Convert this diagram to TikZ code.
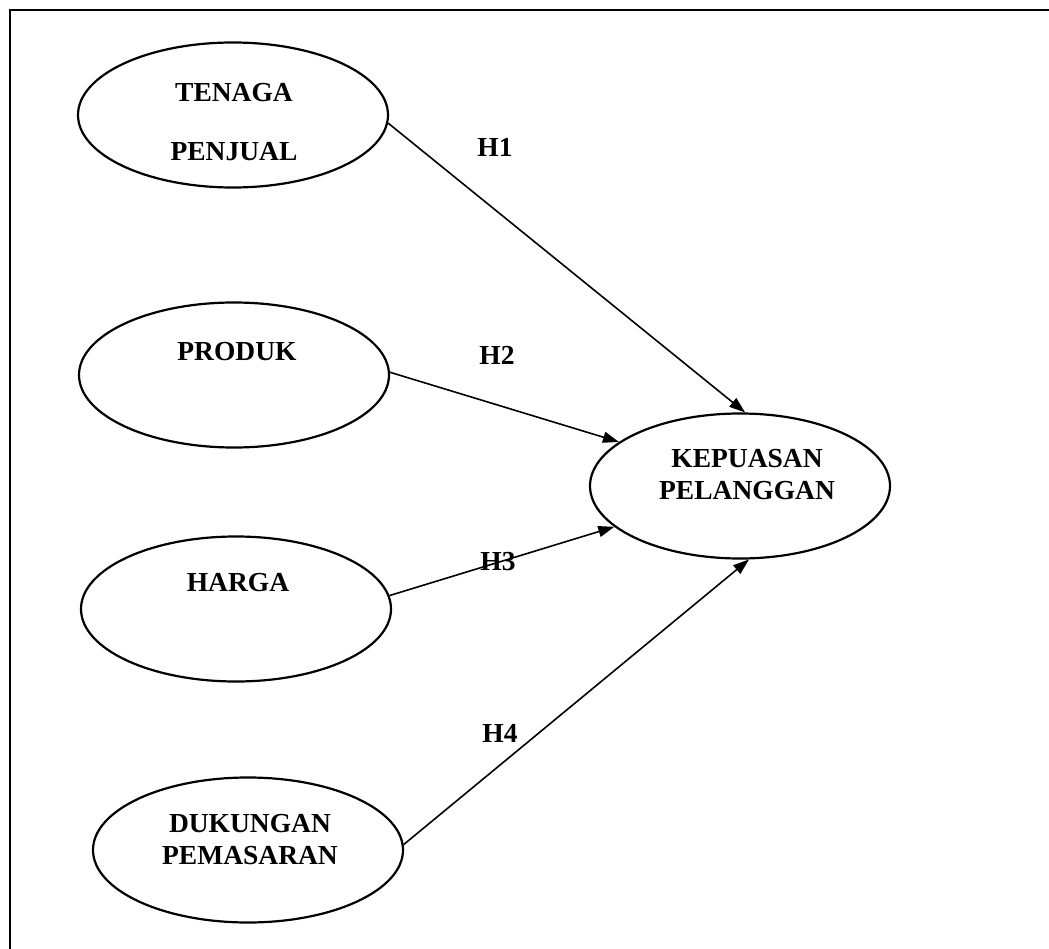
\documentclass[tikz,border=0pt]{standalone}
\usepackage{fontspec}
\setmainfont{Liberation Serif}
\usetikzlibrary{shapes.geometric,arrows.meta}
\begin{document}
\begin{tikzpicture}[x=1pt,y=-1pt,
  var/.style={ellipse,draw,line width=2.2pt,minimum width=310pt,minimum height=145pt,inner sep=0pt},
  txt/.style={align=center,font=\fontsize{27.5}{32}\selectfont\bfseries,inner sep=0pt},
  hyp/.style={font=\fontsize{27.5}{32}\selectfont\bfseries,inner sep=0pt},
  link/.style={line width=1.6pt,-{Triangle[length=16pt,width=11pt]}}]
\useasboundingbox (0,0) rectangle (1049,949);
% frame
\coordinate (fTL) at (10,10);
\coordinate (fTR) at (1049,10);
\coordinate (fBL) at (10,949);
\draw[line width=2.2pt] (fTR) -- (fTL) -- (fBL);
% ellipses
\node[var] (tenaga) at (233,115) {};
\node[var] (produk) at (234,375) {};
\node[var] (harga) at (236,609) {};
\node[var] (dukungan) at (248,850) {};
\node[var,minimum width=300pt] (kepuasan) at (740,486) {};
% texts
\node[txt] (tTenaga) at (234,122) {TENAGA\\[27pt]PENJUAL};
\node[txt] (tProduk) at (237,352) {PRODUK};
\node[txt] (tHarga) at (238,583) {HARGA};
\node[txt] (tDukungan) at (250,840) {DUKUNGAN\\PEMASARAN};
\node[txt] (tKepuasan) at (747,475) {KEPUASAN\\PELANGGAN};
% connectors
\draw[link] (tenaga.-3) -- (kepuasan.86);
\draw[link] (produk.1) -- (kepuasan.160);
\draw[link] (harga.5) -- (kepuasan.198);
\draw[link] (dukungan.2) -- (kepuasan.277);
% labels
\node[hyp] (h1) at (495,147) {H1};
\node[hyp] (h2) at (497,355) {H2};
\node[hyp] (h3) at (498,562) {H3};
\node[hyp] (h4) at (500,733) {H4};
\end{tikzpicture}
\end{document}
